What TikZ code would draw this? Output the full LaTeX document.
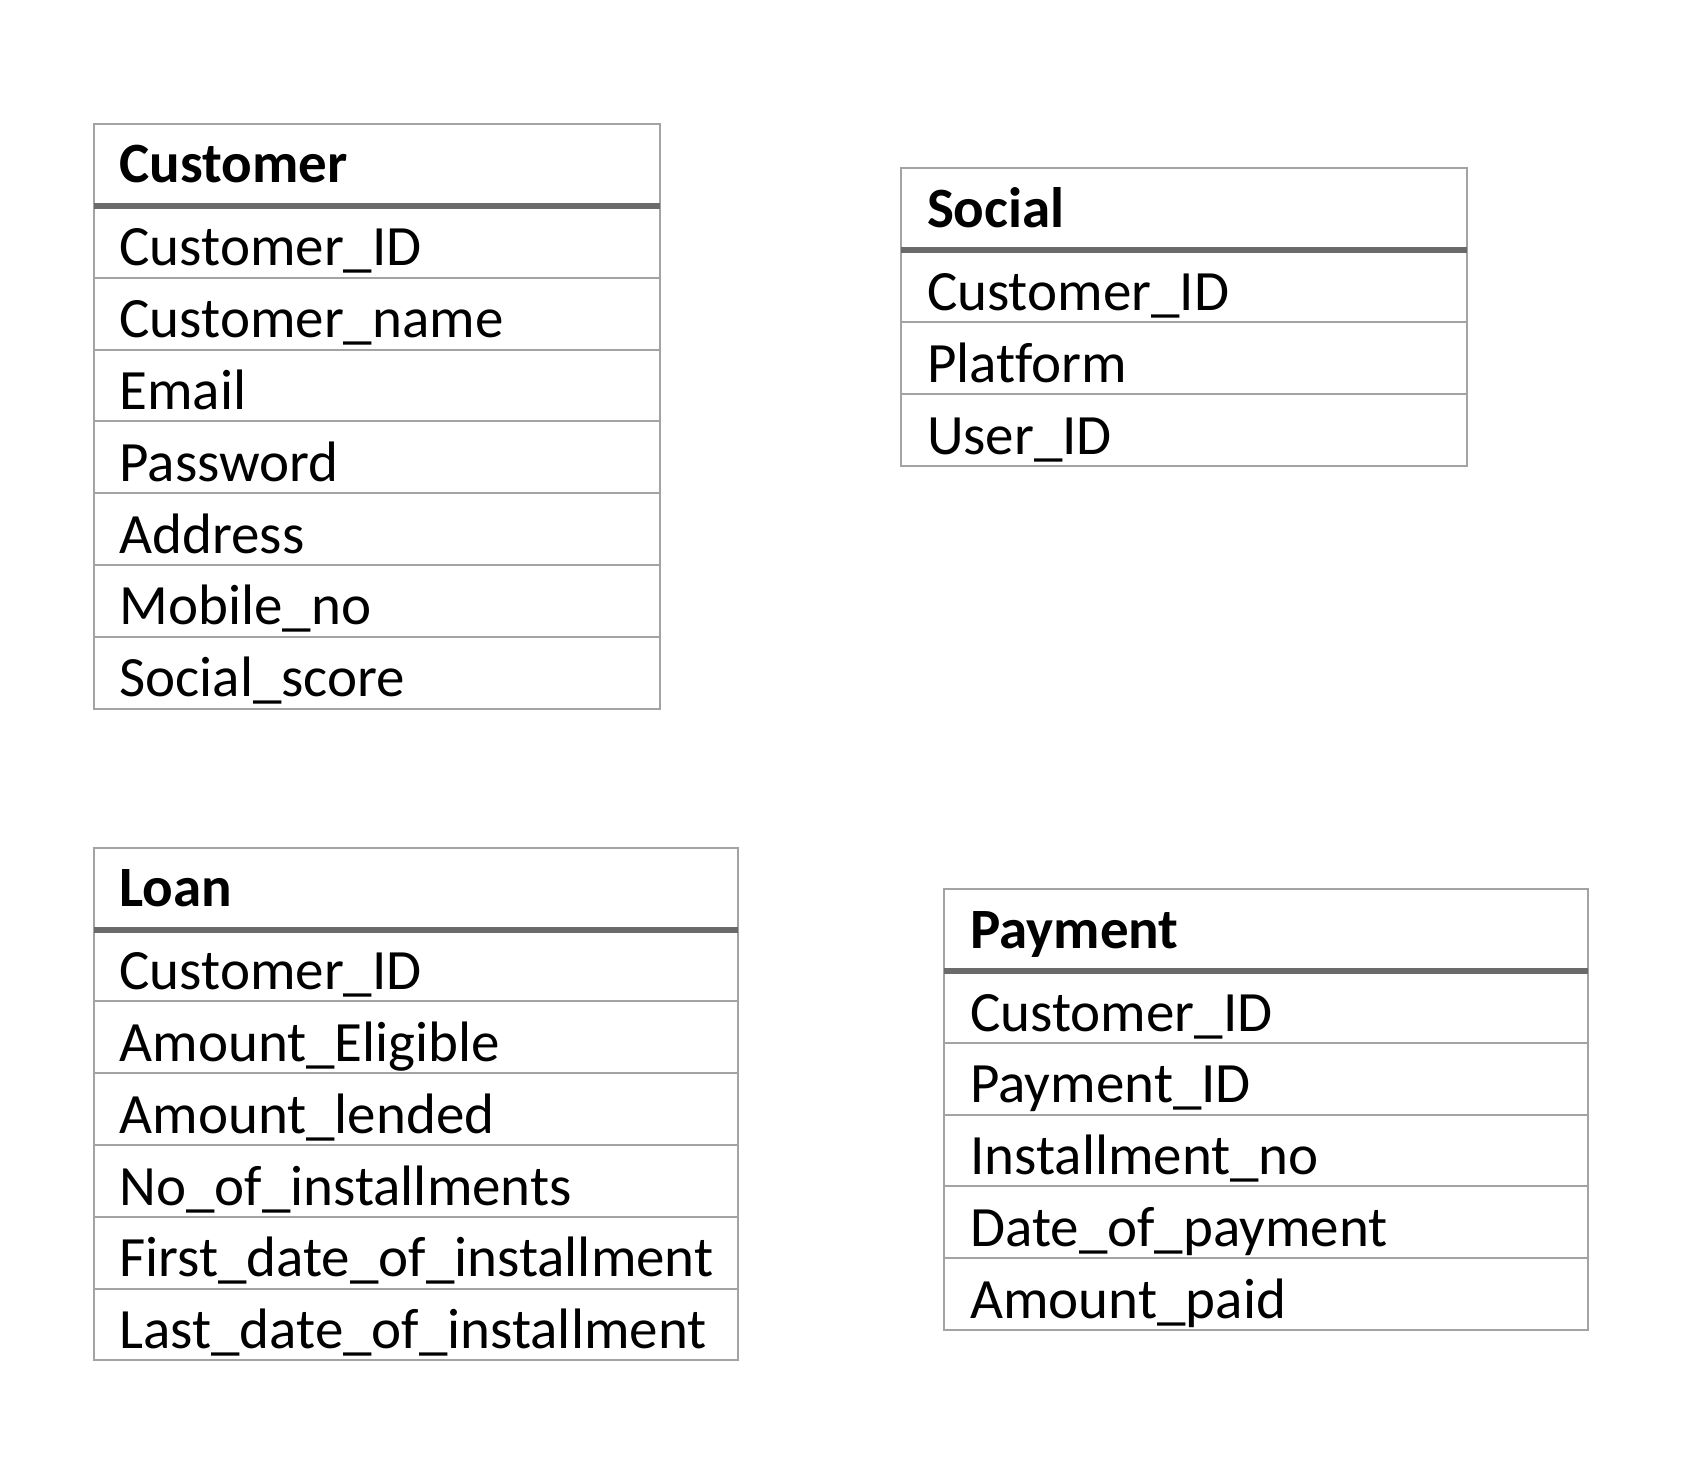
\documentclass[tikz,border=0pt]{standalone}
\usepackage{fontspec}
\setmainfont[Ligatures=NoCommon]{Carlito}
\usepackage{xcolor}
\usetikzlibrary{positioning}
\definecolor{rulegray}{HTML}{A3A3A3}
\definecolor{headgray}{HTML}{6A6A6A}
\tikzset{
  tblbox/.style={draw=rulegray,line width=1pt,outer sep=0pt,inner sep=0pt,
                 text width=#1,minimum width=#1,align=left,
                 font=\fontsize{28.5pt}{34pt}\selectfont,
                 execute at begin node=\hspace*{13pt}},
  tblhead/.style={tblbox=#1,anchor=north west,
                  font=\fontsize{28.5pt}{34pt}\selectfont\bfseries,
                  text height=29.5pt,text depth=11.5pt},
  tblrow/.style={tblbox=#1,text height=30pt,text depth=5.9pt},
  headline/.style={headgray,line width=3pt},
}
\begin{document}
\begin{tikzpicture}[x=1pt,y=1pt]
  \useasboundingbox (0,0) rectangle (852,-742);
  % Customer
  \node[tblhead=283pt] (cust-0) at (46.75,-61.95) {Customer};
  \foreach \fld [count=\i,remember=\i as \j (initially 0)] in
    {Customer\_ID,Customer\_name,Email,Password,Address,Mobile\_no,Social\_score}{
    \node[tblrow=283pt,below=0pt of cust-\j] (cust-\i) {\fld};
  }
  \draw[headline] (cust-0.south west) -- (cust-0.south east);
  % Social
  \node[tblhead=283pt] (soc-0) at (450.5,-84.2) {Social};
  \foreach \fld [count=\i,remember=\i as \j (initially 0)] in
    {Customer\_ID,Platform,User\_ID}{
    \node[tblrow=283pt,below=0pt of soc-\j] (soc-\i) {\fld};
  }
  \draw[headline] (soc-0.south west) -- (soc-0.south east);
  % Loan
  \node[tblhead=322pt] (loan-0) at (46.75,-423.8) {Loan};
  \foreach \fld [count=\i,remember=\i as \j (initially 0)] in
    {Customer\_ID,Amount\_Eligible,Amount\_lended,No\_of\_installments,
     First\_date\_of\_installment,Last\_date\_of\_installment}{
    \node[tblrow=322pt,below=0pt of loan-\j] (loan-\i) {\fld};
  }
  \draw[headline] (loan-0.south west) -- (loan-0.south east);
  % Payment
  \node[tblhead=322pt] (pay-0) at (472.2,-444.5) {Payment};
  \foreach \fld [count=\i,remember=\i as \j (initially 0)] in
    {Customer\_ID,Payment\_ID,Installment\_no,Date\_of\_payment,Amount\_paid}{
    \node[tblrow=322pt,below=0pt of pay-\j] (pay-\i) {\fld};
  }
  \draw[headline] (pay-0.south west) -- (pay-0.south east);
\end{tikzpicture}
\end{document}
